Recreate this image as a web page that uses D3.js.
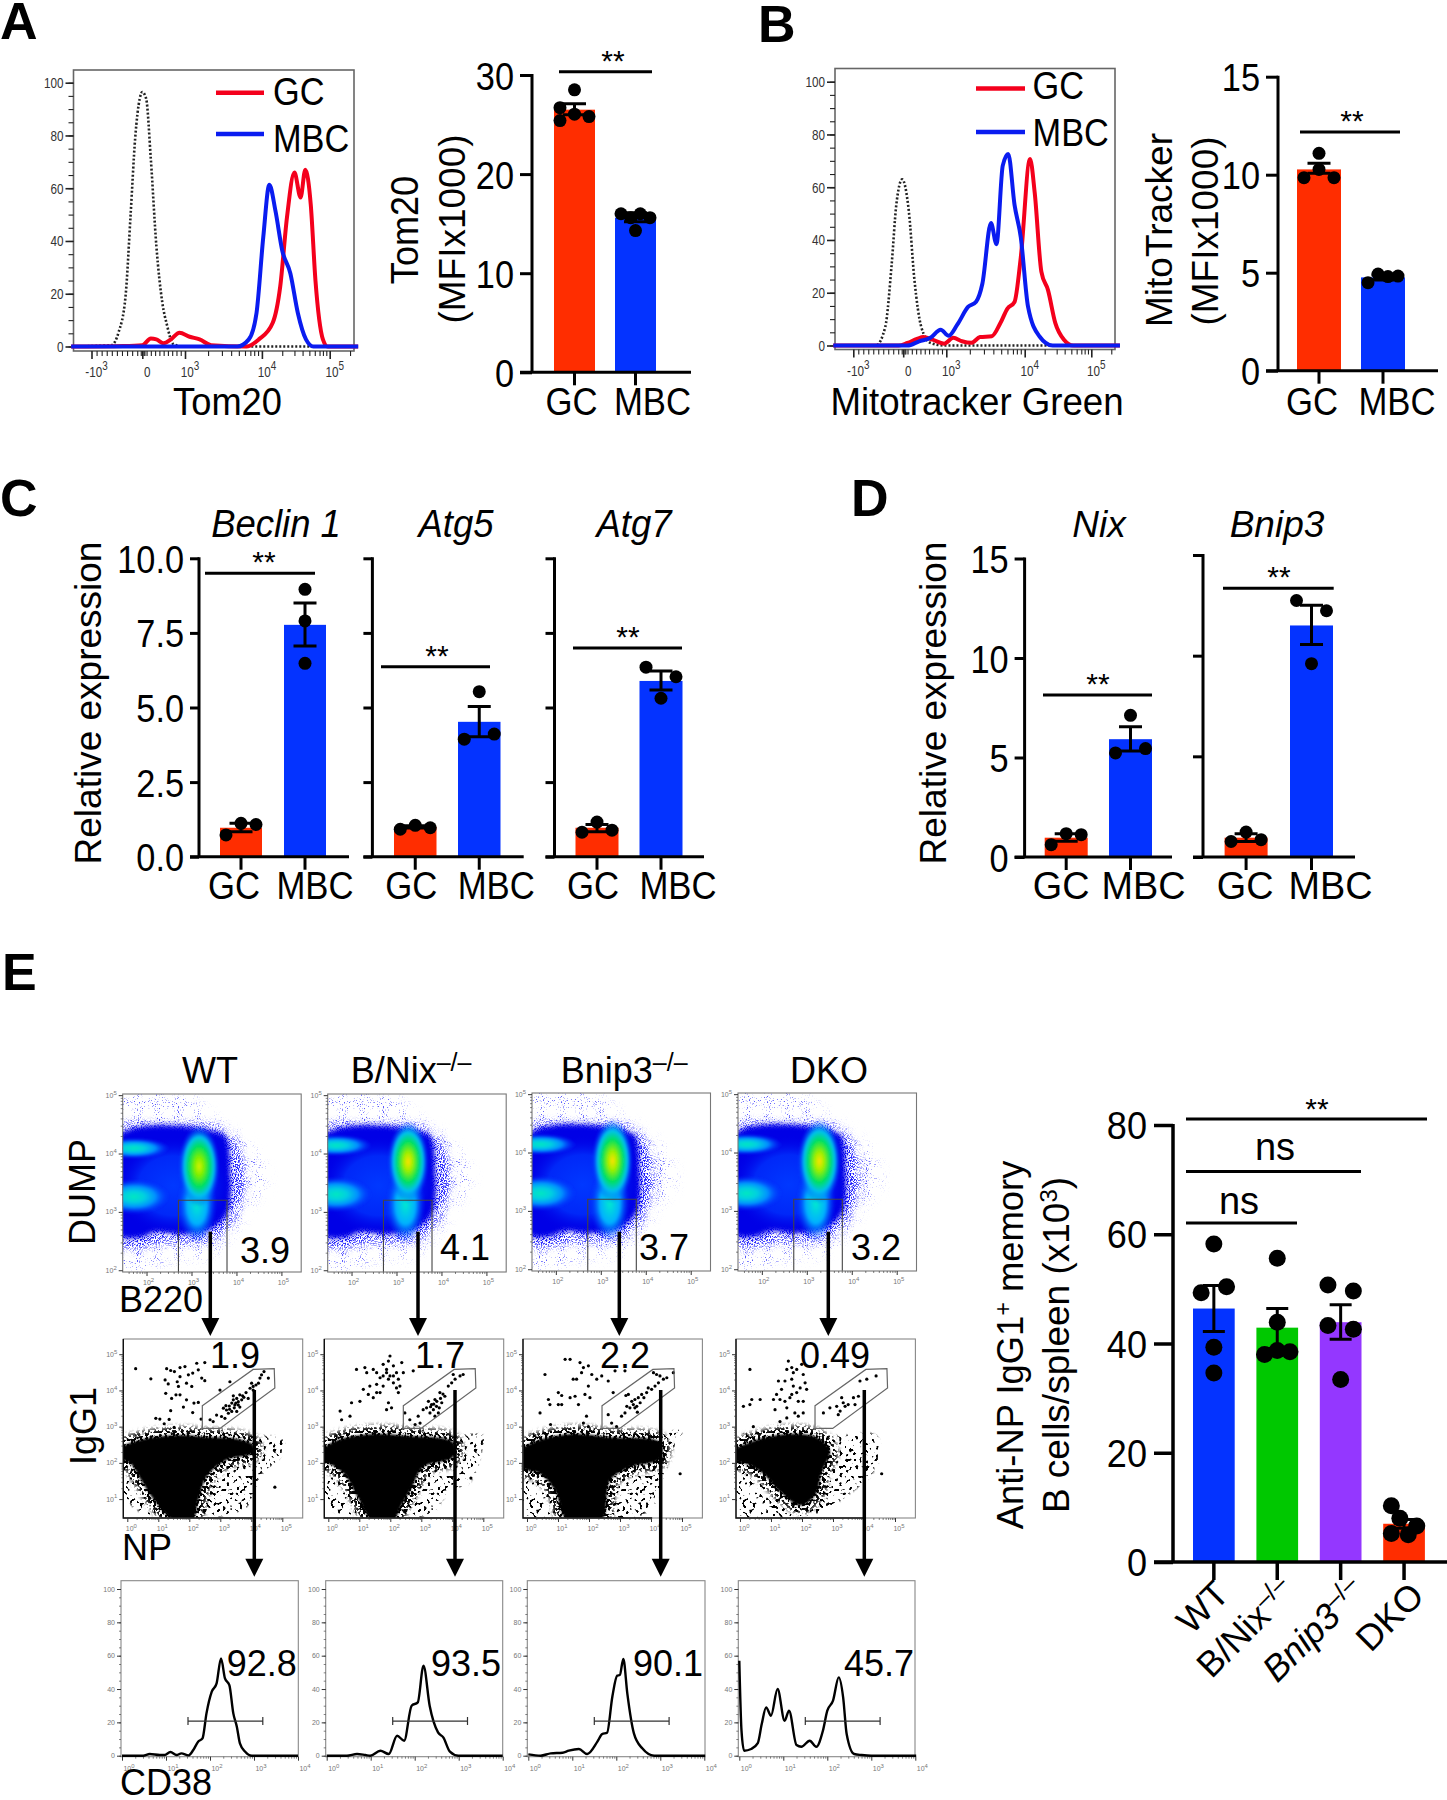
<!DOCTYPE html>
<html><head><meta charset="utf-8">
<style>html,body{margin:0;padding:0;background:#fff}svg{display:block}text{font-family:"Liberation Sans",Arial,sans-serif}</style>
<script src="https://cdn.jsdelivr.net/npm/d3@7/dist/d3.min.js"></script>
</head><body>
<script>
// ---------- DATA: bars (mean, [low, high] error, replicate dots) ----------
const groupsGM=["GC","MBC"];
const tom20Mean=[26.5,15.6], tom20Err=[[26,27.1],[15.2,16.1]], tom20Dots=[[28.5,26.7,26.05,25.8,25.4],[16,16,15.6,15.6,14.3]];
const mitoMean=[10.27,4.76], mitoErr=[[10.07,10.58],[4.63,4.88]], mitoDots=[[11.09,10.27,9.85,9.85],[4.49,4.93,4.8,4.83]];
const beclinMean=[.97,7.77], beclinErr=[[.84,1.12],[7.06,8.5]], beclinDots=[[.73,1.12,1.08],[8.96,7.9,6.48]];
const atg5Mean=[1,4.52], atg5Err=[[.96,1.04],[4.02,5.03]], atg5Dots=[[.92,1.05,.97],[5.53,3.94,4.11]];
const atg7Mean=[.97,5.89], atg7Err=[[.84,1.08],[5.59,6.22]], atg7Dots=[[.82,1.16,.89],[6.35,6.03,5.31]];
const nixMean=[.97,5.92], nixErr=[[.79,1.17],[5.33,6.54]], nixDots=[[.62,1.17,1.12],[7.12,5.23,5.45]];
const bnipMean=[.96,11.5], bnipErr=[[.77,1.15],[10.55,12.5]], bnipDots=[[.77,1.24,.86],[12.74,12.23,9.6]];
const genotypes=["WT","B/Nix","Bnip3","DKO"];
const memMean=[46.4,42.9,43.9,7], memErr=[[42.2,50.6],[39.1,46.4],[40.8,47.1],[6.2,7.8]];
const memDots=[[58.2,49.3,50.4,39.3,34.6],[55.6,43.9,38,38.7,38.5],[50.7,49.6,43.3,42.6,33.4],[10.3,8,6.6,5.2,5]];
// replicate dot lanes (left / centre / right of the bar)
const lanes5=[[0,-1,0,1,-1],[-1,.33,1,-.33,0]], lanes4=[[0,0,-1,1],[-1,-.33,.33,1]], lanes3=[[-1,0,1],[0,0,0]];
const lanes3b=[[-1,0,1],[0,-1,1]], lanes3c=[[-1,0,1],[-1,1,0]], lanes3n=[[-1,0,1],[0,-1,1]], lanes3d=[[-1,0,1],[-1,1,0]];
const lanesMem=[[0,-1,1,0,0],[0,0,-1,0,1],[-1,1,-1,1,0],[-1,-.33,1,-1,.33]];
const ticks30=[0,10,20,30], ticks15=[0,5,10,15], ticks10=[0,2.5,5,7.5,10], ticks80=[0,20,40,60,80];

// ---------- DATA: flow histograms A and B  [display position, % of max] ----------
const aIso=[[-1.4,0],[-.61,.5],[-.47,5.2],[-.33,19],[-.23,50],[-.14,79],[-.05,94],[0,96.5],[.09,94],[.2,71],[.33,38],[.47,16.5],[.58,8],[.72,1],[.94,0],[3.4,0]];
const aGC=[[-1.4,0],[-.37,.2],[0,.5],[.2,3],[.33,2.7],[.5,1.2],[.67,2.7],[.87,5.2],[1.06,3.7],[1.19,2.7],[1.34,.5],[1.8,0],[1.96,2.7],[2.16,9],[2.27,22.7],[2.37,49],[2.48,66],[2.57,56.5],[2.64,67],[2.72,54],[2.79,25],[2.9,2.7],[2.97,0],[3.42,0]];
const aMBC=[[-1.4,0],[1.68,0],[1.83,2.7],[1.93,12.7],[2.02,41.4],[2.11,61.3],[2.2,51.4],[2.3,36.4],[2.42,27.7],[2.53,12.7],[2.65,2.7],[2.76,0],[3.42,0]];
const bIso=[[-1.4,0],[-.55,0],[-.36,7],[-.23,31],[-.14,53],[-.02,63],[.13,51],[.26,25],[.42,7],[.63,1],[.95,0],[3.4,0]];
const bGC=[[-1.4,0],[-.09,0],[.1,1],[.32,2.5],[.47,3.2],[.68,2.2],[.95,.7],[1.09,2.9],[1.2,1.6],[1.32,1],[1.43,3.2],[1.58,3.5],[1.69,8.5],[1.78,14],[1.87,16.5],[1.95,33.4],[2.08,70.7],[2.15,58],[2.25,28],[2.35,21],[2.46,8.5],[2.59,2.2],[2.73,0],[3.43,0]];
const bMBC=[[-1.4,0],[.1,0],[.37,1.6],[.63,2.9],[.87,6],[1.03,3.7],[1.14,7.9],[1.28,14.7],[1.38,16.6],[1.46,23.4],[1.57,46.4],[1.64,38.4],[1.72,68.2],[1.79,72.6],[1.87,53.4],[1.95,41],[2.05,14.7],[2.22,3.5],[2.42,0],[3.43,0]];

// ---------- DATA: CD38 histograms [log10 CD38, %] ----------
const cdWT=[[0,0],[.48,0],[.63,1],[.86,.4],[.97,.4],[1.1,2.2],[1.24,.4],[1.35,1.4],[1.51,.2],[1.62,3.4],[1.73,8.4],[1.83,10.4],[1.92,25.4],[2.04,38.4],[2.15,43.4],[2.25,58.4],[2.34,46.4],[2.44,42.4],[2.53,25.4],[2.61,17.4],[2.68,7.4],[2.8,2.4],[2.95,0],[4,0]];
const cdNix=[[0,0],[.46,0],[.69,1],[.88,.4],[.99,0],[1.22,3],[1.41,1],[1.6,12],[1.76,9],[1.93,30],[2.07,32],[2.2,54],[2.34,30],[2.53,14],[2.65,11],[2.8,2.4],[2.99,0],[4,0]];
const cdBnip=[[0,.8],[.28,0],[.51,1.4],[.78,1.8],[.92,3],[1.15,4],[1.34,1],[1.57,8.4],[1.68,13],[1.79,13.8],[1.91,35.4],[2.02,48],[2.08,48.4],[2.16,58],[2.25,37.4],[2.4,13.4],[2.59,4.4],[2.86,0],[4.02,0]];
const cdDKO=[[0,57],[.05,15],[.11,3],[.27,4],[.42,7.5],[.51,19],[.61,29],[.72,24],[.87,40],[1.03,21],[1.13,27],[1.3,6.4],[1.41,5.4],[1.6,9],[1.75,5.4],[1.9,15],[2,27],[2.13,33],[2.26,47],[2.36,35],[2.44,13],[2.61,1],[2.78,.4],[3,0],[4.02,0]];
const cd38Gate=[1.5,3.2,20.8];
const cd38Labels=["92.8","93.5","90.1","45.7"];

// ---------- DATA: B220 x DUMP density (log10 values) ----------
const dumpLabels=["3.9","4.1","3.7","3.2"];
const dumpCore=[[1.4,4.32],[3.72,4.32],[3.82,4.15],[3.86,3.7],[3.86,3.2],[3.78,2.95],[3.41,2.7],[2.74,2.62],[2.22,2.66],[1.85,2.56],[1.4,2.6]];
const dumpMid=[[1.4,4.42],[2.4,4.48],[3.4,4.48],[3.95,4.25],[4.15,3.85],[4.2,3.45],[4,3],[3.7,2.62],[3.2,2.48],[2.4,2.48],[1.85,2.38],[1.4,2.42]];
const dumpHalo=[[1.4,5.1],[2.7,5.1],[3.5,4.6],[4.03,4.32],[4.55,3.85],[4.66,3.48],[4.2,3.03],[4.03,2.75],[3.35,2.25],[2.74,2.2],[1.85,2],[1.4,1.95]];
const dumpClusters=[ // [log x, log y, half-width, half-height] per cluster
 [[1.72,4.09,.8,.18],[1.72,3.26,.8,.3],[3.12,3.12,.44,.66],[3.17,3.78,.46,.7]],
 [[1.66,4.14,.8,.18],[1.66,3.3,.8,.3],[3.2,3.12,.44,.66],[3.26,3.86,.46,.7]],
 [[1.66,4.14,.8,.18],[1.66,3.3,.8,.3],[3.2,3.12,.44,.66],[3.26,3.86,.46,.72]],
 [[1.66,4.14,.8,.18],[1.66,3.3,.8,.3],[3.2,3.12,.44,.66],[3.28,3.85,.48,.72]]];
const dumpGate=[2.71,3.79,3.2];

// ---------- DATA: NP x IgG1 (log10 values) ----------
const igLabels=["1.9","1.7","2.2","0.49"];
const igGate=[[2.42,3.58],[4.06,4.58],[4.74,4.6],[4.76,4.07],[2.99,2.95],[2.42,2.95]];
const igMass=[
 [[-.2,2.4],[.41,2.63],[1.7,2.77],[2.67,2.71],[3.42,2.68],[4.06,2.5],[4.06,2.27],[3.2,2.08],[2.56,1.62],[2.3,1],[2.1,.42],[1.48,.42],[.84,1],[.46,1.5],[.08,2],[-.2,2.1]],
 [[-.2,2.34],[.27,2.62],[1.45,2.8],[2.53,2.75],[4.03,2.57],[4.03,2.16],[3.06,1.88],[2.7,1.33],[2.35,.8],[2.1,.42],[1.4,.42],[.95,1.05],[.5,1.7],[.05,1.97],[-.2,2.06]],
 [[-.2,2.34],[.2,2.57],[1.39,2.8],[2.68,2.71],[4.29,2.57],[4.29,2.11],[3.32,1.88],[2.68,1.51],[2.41,.42],[1.3,.42],[.9,1.24],[.42,1.7],[-.2,1.88]],
 [[-.2,2.34],[.32,2.57],[1.5,2.8],[2.47,2.71],[2.9,2.34],[2.62,1.7],[2.45,1.14],[1.95,.82],[1.29,1.2],[.75,1.7],[.22,1.97],[-.2,2.06]]];
const igHalo=[
 [[-.2,2.54],[.41,2.77],[1.48,2.86],[4.06,2.77],[5.03,2.63],[4.92,2.17],[4.28,1.62],[3.85,.79],[2.56,.47],[1.48,.42],[.84,.47],[.19,.79],[-.2,1.25]],
 [[-.2,2.55],[.3,2.8],[2,2.95],[4,2.75],[5,2.75],[4.9,2.2],[4.6,1.5],[3.9,1.2],[3.3,.6],[1.5,.42],[.3,.6],[-.2,1.2]],
 [[-.2,2.6],[.3,2.85],[2,2.95],[4.3,2.8],[5,2.9],[4.6,2.2],[4.4,1.4],[3.8,.6],[.2,.42],[-.2,1]],
 [[-.2,2.6],[.3,2.85],[1.8,2.95],[3,2.75],[4.4,2.75],[4.4,1.9],[3.3,1],[2.5,.6],[.2,.42],[-.2,1]]];
const igDots=[
 [[.27,4.6],[.76,4.32],[1.27,4.6],[1.4,4.55],[1.52,4.52],[1.7,4.63],[1.86,4.66],[1.97,4.43],[2.24,4.75],[2.5,4.77],[2.29,4.57],[2.11,4.48],[1.7,4.38],[1.22,4.29],[1.32,4.18],[1.61,4.24],[1.65,4.11],[1.91,4.2],[2.08,4.11],[2.4,4.34],[2.5,4.27],[1.24,3.92],[1.43,3.78],[1.57,3.88],[1.7,3.88],[1.91,3.74],[1.81,3.54],[2.15,3.65],[2.29,3.67],[1.4,3.44],[2.11,3.39],[.92,3.23],[1.05,3.21],[1.19,3.08],[1.35,3.2],[1.51,2.98],
  [2.38,3.21],[2.67,3.19],[2.77,3.14],[2.88,3.32],[3.04,3.28],[3.15,3.23],[2.99,4.01],[3.31,4.24],[3.1,3.51],[3.2,3.46],[3.29,3.57],[3.37,3.65],[3.42,3.74],[3.47,3.6],[3.53,3.78],[3.58,3.69],[3.63,3.88],[3.69,3.74],[3.76,3.81],[3.83,3.94],[3.9,3.78],[3.96,4.06],[4.06,4.11],[4.15,4.15],[4.23,4.2],[4.28,4.34],[4.06,4.01],[4.01,4.2],[4.33,4.43],[4.55,4.34],[4.41,4.52],[3.37,3.42],[3.53,3.42],[3.63,3.54],[3.26,3.37],[3.42,3.85],[3.45,3.52],[3.5,3.65],[3.58,3.6],[3.72,3.85],[3.3,3.48],[3.18,3.58],[4.76,1.33]],
 [[.38,3.43],[.7,3.29],[.43,3.19],[.91,4.58],[1.18,4.63],[1.24,4.49],[1.45,4.58],[1.56,4.49],[1.67,4.35],[1.77,4.72],[1.94,4.81],[1.99,4.95],[2.1,4.68],[2.2,4.49],[2.37,4.77],[2.42,4.49],[2.26,4.31],[2.1,4.21],[1.94,4.31],[1.77,4.12],[1.56,4.17],[1.34,4.12],[1.13,4.03],[1.29,3.89],[1.45,3.8],[1.67,3.94],[1.94,3.66],[2.04,3.52],[1.88,3.47],[1.02,3.7],[.75,3.66],[2.31,4.12],[2.74,4.54],[1.88,4.49],[1.99,4.4],[2.1,4.4],[1.77,4.4],[1.88,4.58],[2.2,4.07],[2.26,3.94],[1.56,3.94],
  [2.47,3.38],[2.63,3.19],[2.8,3.06],[2.9,3.29],[3.06,3.47],[3.17,3.52],[3.23,3.7],[3.33,3.61],[3.39,3.47],[3.44,3.75],[3.49,3.56],[3.55,3.38],[3.6,3.94],[3.66,3.66],[3.76,3.84],[3.87,4.12],[3.98,4.21],[4.09,4.31],[4.25,4.4],[4.35,4.44],[4.03,4.44],[3.28,3.38],[3.44,3.29],[2.96,3.1],[3.4,3.62],[3.5,3.7],[3.3,3.55],[3.58,3.52],[3.62,3.78],[3.7,3.9],[4.6,1.58]],
 [[1.23,4.86],[1.39,4.86],[.58,4.44],[1.49,4.31],[1.6,4.31],[1.71,4.77],[1.76,4.49],[1.82,4.63],[1.98,4.68],[2.09,4.44],[2.25,4.31],[2.41,4.4],[2.62,4.26],[1.98,4.12],[1.01,3.94],[1.12,3.86],[.69,3.75],[.74,3.61],[1.01,3.61],[1.12,3.61],[1.39,3.8],[1.55,3.84],[1.87,3.89],[2.03,3.8],[1.66,3.61],[.42,3.38],[.76,3.06],[1.92,3.29],[1.82,3.1],[1.98,3],[2.78,3.94],[2.84,4.54],[3.16,4.54],
  [2.62,3.33],[2.73,3.1],[2.89,3],[3.05,3.29],[3.16,3.38],[3.22,3.56],[3.32,3.52],[3.38,3.7],[3.43,3.61],[3.48,3.75],[3.54,3.56],[3.59,3.8],[3.65,3.66],[3.7,3.89],[3.77,3.8],[3.86,3.94],[3.91,4.07],[4.02,4.03],[4.13,4.12],[4.24,4.21],[4.29,4.4],[4.4,4.31],[4.51,4.35],[4.72,4.49],[4.18,4.44],[4.08,4.49],[3.27,3.89],[3.19,3.86],[3.48,3.52],[3.56,3.4],[4.94,1.7]],
 [[.32,4.58],[1.56,4.81],[1.51,4.58],[1.67,4.63],[1.83,4.58],[1.99,4.72],[1.72,4.49],[2.04,4.44],[1.24,4.26],[1.45,4.26],[1.67,4.31],[2.1,4.21],[2.15,4.03],[1.94,4.07],[1.72,4.12],[1.83,3.94],[1.67,3.89],[1.34,4.03],[1.18,3.89],[1.08,3.75],[1.29,3.75],[1.45,3.7],[1.61,3.8],[1.88,3.7],[2.04,3.7],[.38,3.75],[.65,3.75],[.32,3.61],[.11,3.56],[1.13,3.47],[1.51,3.52],[1.77,3.38],[1.88,3.29],[1.51,3.24],[.43,3],[1.29,3.14],[2.04,3.38],
  [2.69,3.38],[2.9,3.52],[3.12,3.56],[3.23,3.43],[3.33,3.66],[3.39,3.56],[3.49,3.61],[3.66,3.8],[3.71,3.61],[3.87,4.26],[4.09,4.31],[4.39,4.4],[3.28,3.8],[3.82,3.84],[3.17,3.33],[4.57,1.7]]];

// ---------- DRAW ----------
const FONT='"Liberation Sans",Arial,sans-serif';
const svg=d3.select('body').append('svg').attr('width',1447).attr('height',1800).style('background','#fff');
const defs=svg.append('defs');
function txt(g,x,y,s,o={}){
  const t=g.append('text').attr('transform',`translate(${x},${y}) rotate(${o.rot||0}) scale(${o.sx||1},1)`)
    .attr('text-anchor',o.anchor||'start').attr('font-size',o.size||36).attr('fill',o.fill||'#000');
  if(o.italic)t.attr('font-style','italic');
  if(o.bold)t.attr('font-weight','bold');
  (Array.isArray(s)?s:[s]).forEach(p=>{
    if(typeof p==='string')t.append('tspan').text(p);
    else t.append('tspan').attr('font-size',p.size).attr('dy',p.dy||0).attr('dx',p.dx||0).attr('font-style',p.italic?'italic':null).text(p.t);
  });
  return t;
}
const RED='#ff2d00',BLUE='#0433ff',GREEN='#00c800',PURPLE='#9437ff';

function barPanel(c){
  const g=svg.append('g');
  const y=d3.scaleLinear().domain(c.domain).range([c.y0,c.yTop]);
  const w=c.barW, s=c.step, n=c.cats.length;
  const x=d3.scaleBand().domain(c.cats).range([c.bar0,c.bar0+w+s*(n-1)]).paddingInner(1-w/s).paddingOuter(0);
  g.selectAll('.bar').data(c.mean).join('rect').attr('x',(d,i)=>x(c.cats[i])).attr('width',x.bandwidth())
    .attr('y',d=>y(d)).attr('height',d=>c.y0-y(d)).attr('fill',(d,i)=>c.colors[i]);
  const ax=g.append('g').attr('transform',`translate(${c.axisX},0)`)
    .call(d3.axisLeft(y).tickValues(c.ticks).tickSize(c.tick).tickSizeOuter(0).tickFormat(c.fmt||(d=>d)));
  ax.selectAll('path,line').attr('stroke','#000').attr('stroke-width',c.sw||3);
  ax.select('.domain').attr('d',`M0,${y(c.ticks[c.ticks.length-1])-1}V${c.y0}`);
  ax.selectAll('text').each(function(d){
    const t=d3.select(this);
    if(c.noLabels){t.remove();return;}
    const sz=c.size||39;
    t.attr('x',null).attr('y',null).attr('dy',null).attr('font-family',FONT).attr('font-size',sz).attr('text-anchor','end')
     .attr('transform',`translate(${-c.tick-(c.pad||6)},${sz*.36}) scale(${c.sx||.88},1)`).attr('fill','#000');
  });
  const bx=g.append('g').attr('transform',`translate(0,${c.y0})`)
    .call(d3.axisBottom(x).tickSize(c.xTick||13).tickSizeOuter(0).tickFormat(''));
  bx.selectAll('line').attr('stroke','#000').attr('stroke-width',c.sw||3);
  bx.select('.domain').attr('stroke','#000').attr('stroke-width',c.sw||3).attr('d',`M${c.axisX-c.tick},0H${c.xEnd}`);
  c.err.forEach((e,i)=>{
    const cx=x(c.cats[i])+x.bandwidth()/2, hw=c.cap||11.5;
    const p=d3.path(); p.moveTo(cx,y(e[0]));p.lineTo(cx,y(e[1]));
    p.moveTo(cx-hw,y(e[0]));p.lineTo(cx+hw,y(e[0]));p.moveTo(cx-hw,y(e[1]));p.lineTo(cx+hw,y(e[1]));
    g.append('path').attr('d',p.toString()).attr('stroke','#000').attr('stroke-width',c.errW||3).attr('fill','none');
  });
  c.dots.forEach((arr,i)=>{
    const cx=x(c.cats[i])+x.bandwidth()/2;
    g.selectAll(null).data(arr).join('circle').attr('cx',(d,j)=>cx+c.lanes[i][j]*c.laneW).attr('cy',d=>y(d)).attr('r',c.r||6.5).attr('fill','#000');
  });
  if(c.labelDx) c.cats.forEach((k,i)=>{
    txt(g,x(k)+x.bandwidth()/2+c.labelDx[i],c.labelY,k,{anchor:'middle',size:39,sx:c.lsx||.89});
  });
  (c.sig||[]).forEach(q=>{
    g.append('line').attr('x1',q[0]).attr('x2',q[1]).attr('y1',q[2]).attr('y2',q[2]).attr('stroke','#000').attr('stroke-width',c.sigW||3);
    txt(g,q[3],q[2]+q[4],q[5]||'**',{anchor:'middle',size:q[6]||30});
  });
}
barPanel({cats:groupsGM,colors:[RED,BLUE],mean:tom20Mean,err:tom20Err,dots:tom20Dots,lanes:lanes5,laneW:14.5,domain:[0,30],y0:372.3,yTop:75,axisX:532,tick:12,ticks:ticks30,bar0:554,barW:41,step:61,xEnd:691,labelDx:[-3,17],labelY:415,sig:[[559,652,71.7,613,-1]]});
barPanel({cats:groupsGM,colors:[RED,BLUE],mean:mitoMean,err:mitoErr,dots:mitoDots,lanes:lanes4,laneW:15,domain:[0,15],y0:370.7,yTop:76.7,axisX:1278,tick:12,ticks:ticks15,bar0:1297,barW:44,step:64,xEnd:1438,labelDx:[-7,14],labelY:415,sig:[[1300,1400,132,1352,-1]]});
barPanel({cats:groupsGM,colors:[RED,BLUE],mean:beclinMean,err:beclinErr,dots:beclinDots,lanes:lanes3,laneW:15,domain:[0,10],y0:856.7,yTop:558.3,axisX:199,tick:9,ticks:ticks10,fmt:d3.format('.1f'),bar0:220,barW:42,step:64,xEnd:349,labelDx:[-7,10],labelY:899,sig:[[205,315,573.3,264,-1]]});
barPanel({cats:groupsGM,colors:[RED,BLUE],mean:atg5Mean,err:atg5Err,dots:atg5Dots,lanes:lanes3b,laneW:15,domain:[0,10],y0:856.7,yTop:558.3,axisX:372.4,tick:9,ticks:ticks10,noLabels:true,bar0:394,barW:42.5,step:64,xEnd:523.7,labelDx:[-4,17],labelY:899,sig:[[381,490,666.7,437,-1]]});
barPanel({cats:groupsGM,colors:[RED,BLUE],mean:atg7Mean,err:atg7Err,dots:atg7Dots,lanes:lanes3c,laneW:15,domain:[0,10],y0:856.7,yTop:558.3,axisX:554.5,tick:9,ticks:ticks10,noLabels:true,bar0:575.5,barW:43,step:64,xEnd:704,labelDx:[-4,17],labelY:899,sig:[[573,682,648,628,-1]]});
barPanel({cats:groupsGM,colors:[RED,BLUE],mean:nixMean,err:nixErr,dots:nixDots,lanes:lanes3n,laneW:15,domain:[0,15],y0:857,yTop:558.5,axisX:1024.6,tick:10,ticks:ticks15,bar0:1044.7,barW:43,step:64.3,xEnd:1172,lsx:.97,labelDx:[-5,13],labelY:899,sig:[[1043,1152,695,1098,-1]]});
barPanel({cats:groupsGM,colors:[RED,BLUE],mean:bnipMean,err:bnipErr,dots:bnipDots,lanes:lanes3d,laneW:15,domain:[0,15],y0:857,yTop:555,axisX:1203,tick:10,ticks:ticks15,noLabels:true,bar0:1224.6,barW:43,step:65.4,xEnd:1355,lsx:.97,labelDx:[-1,19],labelY:899,sig:[[1223,1333.7,588.3,1279,-1]]});
barPanel({cats:genotypes,colors:[BLUE,GREEN,PURPLE,RED],mean:memMean,err:memErr,dots:memDots,lanes:lanesMem,laneW:12.7,domain:[0,80],y0:1562,yTop:1125,axisX:1173,tick:19,ticks:ticks80,bar0:1193,barW:41.7,step:63.4,xEnd:1447,xTick:18,cap:11,r:8.5,sw:3.5,size:38,sx:.95,pad:7,sig:[[1186,1427,1119,1317,0,'**',30],[1186,1361,1171.4,1275,-11,'ns',38],[1186,1297,1223,1239,-9,'ns',38]]});

// rotated genotype labels
const eg=svg.append('g');
[[1231,1596,['WT']],[1297,1594,['B/Nix',{t:'–/–',size:25,dy:-12}]],[1367,1594,[{t:'Bnip3',italic:true},{t:'–/–',size:25,dy:-12}]],[1426,1598,['DKO']]]
 .forEach(d=>txt(eg,d[0],d[1],d[2],{anchor:'end',size:36,rot:-45}));

// panel letters
[['A',0,39],['B',758,42],['C',0,516],['D',851,516],['E',2,990]].forEach(d=>txt(svg,d[1],d[2],d[0],{size:52,bold:true}));
// bar panel text
txt(svg,418,230,'Tom20',{anchor:'middle',rot:-90,size:38,sx:.95});
txt(svg,465,229,'(MFIx1000)',{anchor:'middle',rot:-90,size:37});
txt(svg,1172,230,'MitoTracker',{anchor:'middle',rot:-90,size:37});
txt(svg,1218,231,'(MFIx1000)',{anchor:'middle',rot:-90,size:37});
txt(svg,101,703,'Relative expression',{anchor:'middle',rot:-90,size:37});
txt(svg,946,703,'Relative expression',{anchor:'middle',rot:-90,size:37});
[['Beclin 1',276],['Atg5',456],['Atg7',634]].forEach(d=>txt(svg,d[1],537,d[0],{anchor:'middle',italic:true,size:38,sx:.96}));
[['Nix',1099],['Bnip3',1277]].forEach(d=>txt(svg,d[1],537,d[0],{anchor:'middle',italic:true,size:37}));
txt(svg,1023,1345,['Anti-NP IgG1',{t:'+',size:24,dy:-12},{t:' memory',dy:12}],{anchor:'middle',rot:-90,size:37.5,sx:.97});
txt(svg,1069,1345,['B cells/spleen (x10',{t:'3',size:24,dy:-12},{t:')',dy:12}],{anchor:'middle',rot:-90,size:37});

// ----- flow axes -----
function expLabel(sel,base,sup,size){
  sel.text(null);
  sel.append('tspan').text(base);
  if(sup!==null&&sup!==undefined) sel.append('tspan').attr('font-size',size*.85).attr('dy',-size*.45).text(sup);
}
function logMinors(a,b){const r=[];for(let e=a;e<b;e++)for(let k=2;k<10;k++)r.push(k*10**e);return r;}
function axisPair(g,x,y,w,h,o){
  const col=o.col||'#555';
  const ax=g.append('g').attr('transform',`translate(0,${h})`);
  const ay=g.append('g');
  const style=(s,maj)=>{s.select('.domain').remove();s.selectAll('line').attr('stroke',o.tickCol||'#333').attr('stroke-width',maj?(o.tw||1.2):(o.tw2||.8));s.selectAll('text').remove();};
  ax.append('g').call(d3.axisBottom(x).tickValues(o.xMin).tickSize(o.minLen).tickFormat('')).call(s=>style(s,false));
  ay.append('g').call(d3.axisLeft(y).tickValues(o.yMin).tickSize(o.minLen).tickFormat('')).call(s=>style(s,false));
  const xm=ax.append('g').call(d3.axisBottom(x).tickValues(o.xMaj).tickSize(o.majLen).tickFormat(''));
  const ym=ay.append('g').call(d3.axisLeft(y).tickValues(o.yMaj).tickSize(o.majLen).tickFormat(''));
  style(xm,true);style(ym,true);
  o.xMaj.forEach(v=>{
    const f=o.xFmt(v);
    const t=txt(g,x(v)+(o.xDx||0),h+o.xLab,'',{anchor:'middle',size:o.font,fill:col,sx:o.tsx||1});
    expLabel(t,f[0],f[1],o.font);
  });
  o.yMaj.forEach(v=>{
    const f=o.yFmt(v);
    const t=txt(g,-o.majLen-2,y(v)+o.font*.36,'',{anchor:'end',size:o.font,fill:col,sx:o.tsx||1});
    expLabel(t,f[0],f[1],o.font);
  });
}
const exp10=v=>['10',String(Math.round(Math.log10(v)))];

// ----- hist A/B -----
function bigHist(o){
  const g=svg.append('g').attr('transform',`translate(${o.x},${o.top})`);
  const w=o.w,h=o.h;
  const x=d3.scaleLinear().domain(o.uDomain).range(o.uRange);
  const y=d3.scaleLinear().domain([0,100]).range([o.y0-o.top,o.y100-o.top]);
  g.append('rect').attr('width',w).attr('height',h).attr('fill','#fff').attr('stroke','#666').attr('stroke-width',1.6);
  const minorsX=[-.9,-.8,-.7,-.6,-.5,-.4,-.3,-.2,-.1,.05,-.03,.03,.1,.2,.3,.4,.5,.6,.7,.8,.9,1.3,1.48,1.6,1.7,1.78,1.85,1.9,1.95,2.3,2.48,2.6,2.7,2.78,2.85,2.9,2.95,3.3];
  axisPair(g,x,y,w,h,{xMaj:[-1,0,1,2,3],xMin:minorsX,yMaj:[0,20,40,60,80,100],yMin:d3.range(0,101,5),majLen:8,minLen:5,font:15,tsx:.78,xLab:26,xDx:5,col:'#333',tickCol:'#222',tw:1.6,tw2:1.1,
    xFmt:v=>v===-1?['-10','3']:v===0?['0',null]:exp10(10**(v+2)),yFmt:v=>[String(v),null]});
  const ln=d3.line().x(d=>x(d[0])).y(d=>y(d[1])).curve(d3.curveMonotoneX);
  g.append('path').attr('d',ln(o.iso)).attr('fill','none').attr('stroke','#222').attr('stroke-width',2.6).attr('stroke-dasharray','2 2');
  g.append('path').attr('d',ln(o.gc)).attr('fill','none').attr('stroke','#f4001c').attr('stroke-width',4);
  g.append('path').attr('d',ln(o.mbc)).attr('fill','none').attr('stroke','#0a1cf0').attr('stroke-width',4);
  o.legend.forEach((l,i)=>{
    g.append('line').attr('x1',l.x1-o.x).attr('x2',l.x2-o.x).attr('y1',l.y-o.top).attr('y2',l.y-o.top).attr('stroke',i?'#0a1cf0':'#f4001c').attr('stroke-width',4.5);
    txt(g,l.tx-o.x,l.ty-o.top,l.t,{size:39,sx:.88});
  });
}
bigHist({x:73.5,top:70,w:280.5,h:281,y0:346.5,y100:82.7,uDomain:[-1,0,1,2,3],uRange:[18,68.8,111.5,188.4,256.2],iso:aIso,gc:aGC,mbc:aMBC,
 legend:[{x1:216,x2:264,y:92.7,tx:273,ty:105,t:'GC'},{x1:216,x2:264,y:134,tx:273,ty:151.7,t:'MBC'}]});
bigHist({x:835,top:68.5,w:280,h:281,y0:345.5,y100:81.7,uDomain:[-1,0,1,2,3],uRange:[18.3,68.2,111.3,189.7,256.3],iso:bIso,gc:bGC,mbc:bMBC,
 legend:[{x1:976,x2:1025,y:88.5,tx:1032.6,ty:99.3,t:'GC'},{x1:976,x2:1025,y:132,tx:1032.6,ty:145.7,t:'MBC'}]});
txt(svg,227.5,415,'Tom20',{anchor:'middle',size:39,sx:.93});
txt(svg,977,415,'Mitotracker Green',{anchor:'middle',size:39,sx:.94});

// ----- filters -----
defs.html(`
<filter id="blur3" x="-30%" y="-30%" width="160%" height="160%"><feGaussianBlur stdDeviation="2.5"/></filter>
<filter id="blur7" x="-30%" y="-30%" width="160%" height="160%"><feGaussianBlur stdDeviation="6"/></filter>
<filter id="blur4" x="-30%" y="-30%" width="160%" height="160%"><feGaussianBlur stdDeviation="5"/></filter>
<filter id="blur1" x="-30%" y="-30%" width="160%" height="160%"><feGaussianBlur stdDeviation="1.1"/></filter>
<filter id="speckBlue" x="0" y="0" width="1" height="1" color-interpolation-filters="sRGB"><feTurbulence type="fractalNoise" baseFrequency="0.95" numOctaves="1" seed="4"/><feColorMatrix values="0 0 0 0 .35  0 0 0 0 .35  0 0 0 0 1  8 0 0 0 -4.9"/></filter>
<filter id="speckBlue2" x="0" y="0" width="1" height="1" color-interpolation-filters="sRGB"><feTurbulence type="fractalNoise" baseFrequency="0.95" numOctaves="1" seed="9"/><feColorMatrix values="0 0 0 0 .08  0 0 0 0 .08  0 0 0 0 1  9 0 0 0 -4.4"/></filter>
<filter id="speckBlack" x="0" y="0" width="1" height="1" color-interpolation-filters="sRGB"><feTurbulence type="fractalNoise" baseFrequency="0.3" numOctaves="1" seed="7"/><feColorMatrix values="0 0 0 0 0  0 0 0 0 0  0 0 0 0 0  20 0 0 0 -11.8"/></filter>
<filter id="speckBlack2" x="0" y="0" width="1" height="1" color-interpolation-filters="sRGB"><feTurbulence type="fractalNoise" baseFrequency="0.36" numOctaves="1" seed="3"/><feColorMatrix values="0 0 0 0 0  0 0 0 0 0  0 0 0 0 0  20 0 0 0 -10"/></filter>
<radialGradient id="gBlue"><stop offset="0" stop-color="#0038ff"/><stop offset=".6" stop-color="#0028f8"/><stop offset="1" stop-color="#0000e6" stop-opacity="0"/></radialGradient>
<radialGradient id="gSide"><stop offset="0" stop-color="#00e8c0"/><stop offset=".3" stop-color="#00d0e0"/><stop offset=".6" stop-color="#0090ff"/><stop offset="1" stop-color="#0030ff" stop-opacity="0"/></radialGradient>
<radialGradient id="gTail"><stop offset="0" stop-color="#00e8d0"/><stop offset=".5" stop-color="#00b0ff"/><stop offset="1" stop-color="#0030ff" stop-opacity="0"/></radialGradient>
<radialGradient id="gHot0"><stop offset="0" stop-color="#d8f000"/><stop offset=".22" stop-color="#80f000"/><stop offset=".5" stop-color="#00e060"/><stop offset=".72" stop-color="#00c0f0"/><stop offset="1" stop-color="#0030ff" stop-opacity="0"/></radialGradient>
<radialGradient id="gHot1"><stop offset="0" stop-color="#ffe000"/><stop offset=".22" stop-color="#a0f000"/><stop offset=".5" stop-color="#00e060"/><stop offset=".72" stop-color="#00c0f0"/><stop offset="1" stop-color="#0030ff" stop-opacity="0"/></radialGradient>`);

// ----- DUMP density -----
const dumpBoxes=[[122.7,1094],[327.7,1094],[532,1093],[738,1093]];
const dumpLabPos=[[265,1263],[465,1260],[664,1260],[876,1260]];
const smooth=(x,y)=>d3.line().x(d=>x(10**d[0])).y(d=>y(10**d[1])).curve(d3.curveCatmullRomClosed);
const straight=(x,y)=>d3.line().x(d=>x(10**d[0])).y(d=>y(10**d[1])).curve(d3.curveLinearClosed);
function makeMask(id,W,H,fn){
  const m=defs.append('mask').attr('id',id).attr('maskUnits','userSpaceOnUse').attr('x',-10).attr('y',-10).attr('width',W+20).attr('height',H+20);
  fn(m);
}
dumpBoxes.forEach((b,i)=>{
  const W=178.5,H=178;
  const g=svg.append('g').attr('transform',`translate(${b[0]},${b[1]})`);
  const x=d3.scaleLog().domain([10**1.47,10**5.44]).range([0,W]);
  const y=d3.scaleLog().domain([10**1.97,10**5.02]).range([H,0]);
  const cid='dc'+i;
  g.append('clipPath').attr('id',cid).append('rect').attr('width',W).attr('height',H);
  const p=g.append('g').attr('clip-path',`url(#${cid})`);
  const ln=smooth(x,y);
  makeMask('dm'+i,W,H,m=>m.append('path').attr('d',ln(dumpHalo)).attr('fill','#fff').attr('filter','url(#blur7)'));
  makeMask('dn'+i,W,H,m=>m.append('path').attr('d',ln(dumpMid)).attr('fill','#fff').attr('filter','url(#blur4)'));
  p.append('g').attr('mask',`url(#dm${i})`).append('rect').attr('width',W).attr('height',H).attr('filter','url(#speckBlue)');
  p.append('g').attr('mask',`url(#dn${i})`).append('rect').attr('width',W).attr('height',H).attr('filter','url(#speckBlue2)');
  p.append('path').attr('d',ln(dumpCore)).attr('fill','#0000e6').attr('filter','url(#blur3)');
  p.append('ellipse').attr('cx',x(10**2.6)).attr('cy',y(10**3.45)).attr('rx',x(10**3.9)-x(10**2.6)).attr('ry',y(10**3.45)-y(10**4.3)).attr('fill','url(#gBlue)');
  dumpClusters[i].forEach((c,j)=>{
    const cx=x(10**c[0]),cy=y(10**c[1]),rx=x(10**(c[0]+c[2]))-cx,ry=cy-y(10**(c[1]+c[3]));
    p.append('ellipse').attr('cx',cx).attr('cy',cy).attr('rx',rx).attr('ry',ry)
      .attr('fill',j<2?'url(#gSide)':j===2?'url(#gTail)':(i===0?'url(#gHot0)':'url(#gHot1)')).attr('filter','url(#blur1)');
  });
  const gy=y(10**dumpGate[2]);
  g.append('path').attr('d',`M${x(10**dumpGate[0])},${H}V${gy}H${x(10**dumpGate[1])}V${H}`).attr('fill','none').attr('stroke','#444').attr('stroke-width',1.1);
  g.append('rect').attr('width',W).attr('height',H).attr('fill','none').attr('stroke','#777').attr('stroke-width',1.1);
  axisPair(g,x,y,W,H,{xMaj:[1e2,1e3,1e4,1e5],xMin:logMinors(1,5).filter(v=>v>30&&v<2.7e5),yMaj:[1e2,1e3,1e4,1e5],yMin:logMinors(2,5),majLen:4,minLen:2,font:7,xLab:13,xDx:2,col:'#777',tickCol:'#333',tw:1,tw2:.6,xFmt:exp10,yFmt:exp10});
  txt(svg,dumpLabPos[i][0],dumpLabPos[i][1],dumpLabels[i],{anchor:'middle',size:36});
});

// ----- IgG1 scatter -----
const igBoxes=[[123.3,1339],[324.3,1339],[523,1339],[736,1339]];
const igLabX=[235,440,625,835];
igBoxes.forEach((b,i)=>{
  const W=179.4,H=179;
  const g=svg.append('g').attr('transform',`translate(${b[0]},${b[1]})`);
  const x=d3.scaleLog().domain([10**-.129,10**5.658]).range([0,W]);
  const y=d3.scaleLog().domain([10**.478,10**5.42]).range([H,0]);
  const cid='ic'+i;
  g.append('clipPath').attr('id',cid).append('rect').attr('width',W).attr('height',H);
  const p=g.append('g').attr('clip-path',`url(#${cid})`);
  const ln=smooth(x,y);
  makeMask('im'+i,W,H,m=>m.append('path').attr('d',ln(igHalo[i])).attr('fill','#fff').attr('filter','url(#blur1)'));
  makeMask('in'+i,W,H,m=>m.append('path').attr('d',ln(igMass[i])).attr('fill','#fff').attr('stroke','#fff').attr('stroke-width',16).attr('filter','url(#blur3)'));
  p.append('g').attr('mask',`url(#im${i})`).append('rect').attr('width',W).attr('height',H).attr('filter','url(#speckBlack)');
  p.append('g').attr('mask',`url(#in${i})`).append('rect').attr('width',W).attr('height',H).attr('filter','url(#speckBlack2)');
  p.append('path').attr('d',ln(igMass[i])).attr('fill','#000').attr('filter','url(#blur1)');
  p.selectAll('.d').data(igDots[i]).join('circle').attr('cx',d=>x(10**d[0])).attr('cy',d=>y(10**d[1])).attr('r',1.6).attr('fill','#000');
  g.append('path').attr('d',straight(x,y)(igGate)).attr('fill','none').attr('stroke','#666').attr('stroke-width',1.2);
  g.append('rect').attr('width',W).attr('height',H).attr('fill','none').attr('stroke','#888').attr('stroke-width',1.1);
  g.append('path').attr('d',`M0,0V${H}H${W*.72}`).attr('fill','none').attr('stroke','#111').attr('stroke-width',1.4);
  axisPair(g,x,y,W,H,{xMaj:[1,10,100,1e3,1e4,1e5],xMin:logMinors(0,5),yMaj:[10,100,1e3,1e4,1e5],yMin:logMinors(1,5),majLen:4,minLen:2,font:7,xLab:13,xDx:4,col:'#777',tickCol:'#333',tw:1,tw2:.6,xFmt:exp10,yFmt:exp10});
  txt(svg,igLabX[i],1368,igLabels[i],{anchor:'middle',size:36});
});

// ----- CD38 histograms -----
const cdBoxes=[[121,298.3],[325.7,502.7],[527.3,705],[738.3,915]];
const cdLabX=[261.7,466,668,879];
[cdWT,cdNix,cdBnip,cdDKO].forEach((curve,i)=>{
  const g=svg.append('g').attr('transform',`translate(${cdBoxes[i][0]},1580.7)`);
  const W=cdBoxes[i][1]-cdBoxes[i][0],H=176;
  const x=d3.scaleLog().domain([1,1e4]).range([1,177]);
  const y=d3.scaleLinear().domain([0,100]).range([175,8.3]);
  g.append('rect').attr('width',W).attr('height',H).attr('fill','#fff').attr('stroke','#888').attr('stroke-width',1.1);
  axisPair(g,x,y,W,H,{xMaj:[1,10,100,1e3,1e4],xMin:logMinors(0,4),yMaj:[0,20,40,60,80,100],yMin:d3.range(0,101,5),majLen:4,minLen:2,font:7,xLab:14,xDx:7,col:'#777',tickCol:'#333',tw:1,tw2:.6,xFmt:exp10,yFmt:v=>[String(v),null]});
  g.append('path').attr('d',d3.line().x(d=>x(10**d[0])).y(d=>y(d[1])).curve(d3.curveMonotoneX)(curve)).attr('fill','none').attr('stroke','#000').attr('stroke-width',2.4);
  const yy=y(cd38Gate[2]),x0=x(10**cd38Gate[0]),x1=x(10**cd38Gate[1]);
  g.append('path').attr('d',`M${x0},${yy-4}V${yy+4}M${x0},${yy}H${x1}M${x1},${yy-4}V${yy+4}`).attr('fill','none').attr('stroke','#333').attr('stroke-width',1.2);
  txt(svg,cdLabX[i],1676,cd38Labels[i],{anchor:'middle',size:36});
});

// ----- arrows -----
function arrow(x,y0,y1){
  svg.append('line').attr('x1',x).attr('x2',x).attr('y1',y0).attr('y2',y1-16).attr('stroke','#000').attr('stroke-width',3.5);
  const p=d3.path();p.moveTo(x-9,y1-18);p.lineTo(x+9,y1-18);p.lineTo(x,y1);p.closePath();
  svg.append('path').attr('d',p.toString()).attr('fill','#000');
}
[210.3,418,619.3,828.3].forEach(x=>arrow(x,1231.7,1336));
[254.3,455,660.7,864.3].forEach(x=>arrow(x,1390,1576.7));

// ----- E labels -----
txt(svg,210,1083,'WT',{anchor:'middle',size:36});
txt(svg,350.7,1083,['B/Nix',{t:'–/–',size:25,dy:-12}],{size:36});
txt(svg,560.7,1083,['Bnip3',{t:'–/–',size:25,dy:-12}],{size:36});
txt(svg,829,1083,'DKO',{anchor:'middle',size:36});
txt(svg,95,1192,'DUMP',{anchor:'middle',rot:-90,size:36});
txt(svg,119,1311.7,'B220',{size:36});
txt(svg,95.7,1426,'IgG1',{anchor:'middle',rot:-90,size:36});
txt(svg,122,1560,'NP',{size:36});
txt(svg,120,1795,'CD38',{size:36});
</script>
</body></html>
